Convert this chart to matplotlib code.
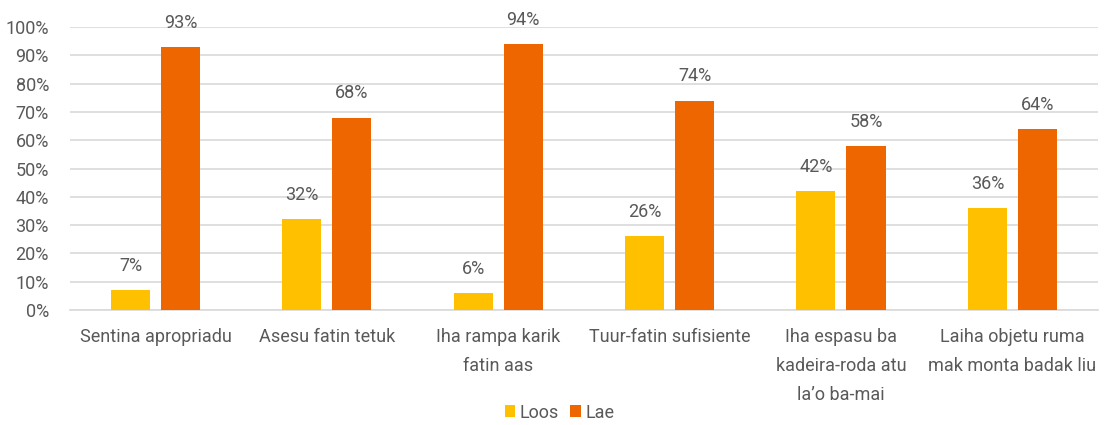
import matplotlib.pyplot as plt
import numpy as np

categories = ['Sentina apropriadu', 'Asesu fatin tetuk', 'Iha rampa karik\nfatin aas',
              'Tuur-fatin sufisiente', 'Iha espasu ba\nkadeira-roda atu\nla\u2019o ba-mai',
              'Laiha objetu ruma\nmak monta badak liu']
loos = [7, 32, 6, 26, 42, 36]
lae = [93, 68, 94, 74, 58, 64]

plt.rcParams['font.family'] = ['Roboto', 'DejaVu Sans']
txt = '#595959'
fs = 13

fig = plt.figure(figsize=(11.08, 4.25), dpi=100)
ax = fig.add_axes([0.063, 0.271, 0.928, 0.665])

x = np.arange(len(categories))
w = 0.228
off = 0.146
b1 = ax.bar(x - off, loos, w, color='#FFC000', label='Loos', zorder=3)
b2 = ax.bar(x + off, lae, w, color='#EE6600', label='Lae', zorder=3)

for bars, vals in ((b1, loos), (b2, lae)):
    for b, v in zip(bars, vals):
        ax.annotate(f'{v}%', (b.get_x() + b.get_width() / 2, v), xytext=(0, 11),
                    textcoords='offset points', ha='center', va='bottom',
                    fontsize=fs, color=txt)

ax.set_xlim(-0.5, len(categories) - 0.5)
ax.set_ylim(0, 100)
ax.set_yticks(range(0, 101, 10))
ax.set_yticklabels([f'{t}%' for t in range(0, 101, 10)])
ax.set_xticks(x)
ax.set_xticklabels(categories, linespacing=1.8)
ax.tick_params(axis='both', length=0, colors=txt, labelsize=fs)
ax.tick_params(axis='x', pad=13)
ax.tick_params(axis='y', pad=15)
ax.yaxis.grid(True, color='#D9D9D9', linewidth=1.2, zorder=0)
for s in ax.spines.values():
    s.set_visible(False)
ax.spines['bottom'].set_visible(True)
ax.spines['bottom'].set_color('#D9D9D9')
ax.spines['bottom'].set_linewidth(1.2)

fig.legend(loc='lower center', bbox_to_anchor=(0.505, -0.03), ncol=2, frameon=False,
           handlelength=0.6, handleheight=0.6, handletextpad=0.25, columnspacing=0.6,
           fontsize=fs, labelcolor=txt)

fig.savefig('out.png', dpi=100)
